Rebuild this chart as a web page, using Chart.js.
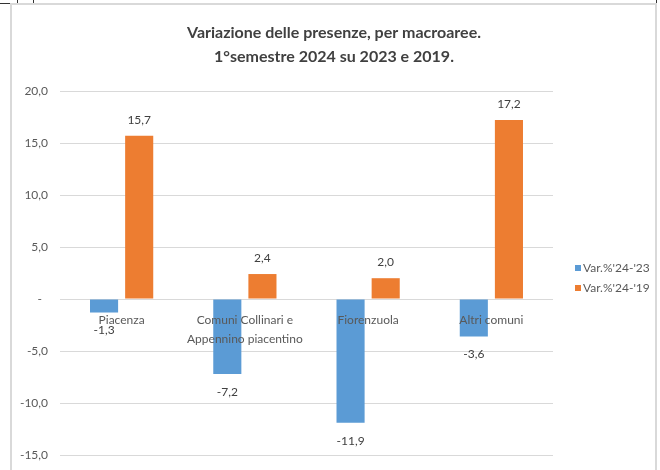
<!DOCTYPE html>
<html>
<head>
<meta charset="utf-8">
<script src="https://cdn.jsdelivr.net/npm/chart.js@4.4.1/dist/chart.umd.min.js"></script>
<style>
  html, body { margin: 0; padding: 0; background: #ffffff; }
  #wrap { position: relative; width: 660px; height: 470px; }
</style>
</head>
<body>
<div id="wrap"><canvas id="c" width="660" height="470"></canvas></div>
<script>
const titleLines = ["Variazione delle presenze, per macroaree.", "1°semestre 2024 su 2023 e 2019."];
const categories = ["Piacenza", ["Comuni Collinari e", "Appennino piacentino"], "Fiorenzuola", "Altri comuni"];
const seriesNames = ["Var.%'24-'23", "Var.%'24-'19"];
const var2423 = [-1.3, -7.2, -11.9, -3.6];
const var2419 = [15.7, 2.4, 2.0, 17.2];
const yTicks = [-15, -10, -5, 0, 5, 10, 15, 20];

const FONT = "Lato, 'DejaVu Sans Condensed', sans-serif";
const TXT = '#595959';
const fmt = v => v.toFixed(1).replace('.', ',');

const framePlugin = {
  id: 'frame',
  beforeDraw(chart) {
    const ctx = chart.ctx;
    ctx.save();
    ctx.fillStyle = '#ffffff';
    ctx.fillRect(0, 0, chart.width, chart.height);
    ctx.strokeStyle = '#d9d9d9';
    ctx.lineWidth = 2;
    ctx.beginPath();
    ctx.moveTo(11, 470); ctx.lineTo(11, 4); ctx.lineTo(656, 4); ctx.lineTo(656, 470);
    ctx.stroke();
    ctx.strokeStyle = '#333333';
    ctx.lineWidth = 1;
    ctx.beginPath();
    ctx.moveTo(0, 3.5); ctx.lineTo(10, 3.5);
    ctx.moveTo(17.5, 0); ctx.lineTo(17.5, 3);
    ctx.moveTo(33.5, 0); ctx.lineTo(33.5, 3);
    ctx.moveTo(656.5, 0); ctx.lineTo(656.5, 3);
    ctx.stroke();
    ctx.restore();
  }
};

const titlePlugin = {
  id: 'customTitle',
  afterDraw(chart) {
    const ctx = chart.ctx;
    ctx.save();
    ctx.fillStyle = '#404040';
    ctx.font = "bold 16px " + FONT;
    ctx.textAlign = 'center';
    ctx.textBaseline = 'middle';
    ctx.fillText(titleLines[0], 334, 33);
    ctx.fillText(titleLines[1], 334, 57);
    ctx.restore();
  }
};

const labelsPlugin = {
  id: 'valueLabels',
  afterDatasetsDraw(chart) {
    const ctx = chart.ctx;
    ctx.save();
    ctx.fillStyle = '#404040';
    ctx.font = "12px " + FONT;
    ctx.textAlign = 'center';
    ctx.textBaseline = 'middle';
    chart.data.datasets.forEach((ds, i) => {
      const meta = chart.getDatasetMeta(i);
      meta.data.forEach((el, j) => {
        const v = ds.data[j];
        const y = v >= 0 ? el.y - 16 : el.y + 18;
        ctx.fillText(fmt(v), el.x, y);
      });
    });
    ctx.restore();
  }
};

const legendPlugin = {
  id: 'customLegend',
  afterDraw(chart) {
    const ctx = chart.ctx;
    ctx.save();
    ctx.font = "12px " + FONT;
    ctx.textBaseline = 'middle';
    ctx.textAlign = 'left';
    chart.data.datasets.forEach((ds, i) => {
      const y = 268 + i * 20;
      ctx.fillStyle = ds.backgroundColor;
      ctx.fillRect(575, y - 3, 6, 6);
      ctx.fillStyle = TXT;
      ctx.fillText(ds.label, 583, y);
    });
    ctx.restore();
  }
};

new Chart(document.getElementById('c'), {
  type: 'bar',
  data: {
    labels: categories,
    datasets: [
      { label: seriesNames[0], data: var2423, backgroundColor: '#5b9bd5' },
      { label: seriesNames[1], data: var2419, backgroundColor: '#ed7d31' }
    ]
  },
  options: {
    responsive: false,
    animation: false,
    devicePixelRatio: 1,
    categoryPercentage: 0.57,
    barPercentage: 0.8,
    layout: { padding: { left: 10, right: 107, top: 91, bottom: 15 } },
    plugins: {
      legend: { display: false },
      title: { display: false },
      tooltip: { enabled: false }
    },
    scales: {
      x: {
        position: { y: 0 },
        grid: { display: false, drawTicks: false },
        border: { display: false },
        ticks: {
          z: 1,
          autoSkip: false, maxRotation: 0, padding: 12,
          color: TXT, font: { family: FONT, size: 12, lineHeight: 1.55 }
        }
      },
      y: {
        min: -15, max: 20,
        afterBuildTicks(scale) { scale.ticks = yTicks.map(v => ({ value: v })); },
        afterFit(scale) { scale.width = 50; scale.paddingTop = 0; scale.paddingBottom = 0; },
        grid: { color: '#d9d9d9', drawTicks: false, lineWidth: 1 },
        border: { display: false },
        ticks: {
          padding: 12, color: TXT, font: { family: FONT, size: 12 },
          callback: v => v === 0 ? '-  ' : fmt(v)
        }
      }
    }
  },
  plugins: [framePlugin, titlePlugin, labelsPlugin, legendPlugin]
});
</script>
</body>
</html>
